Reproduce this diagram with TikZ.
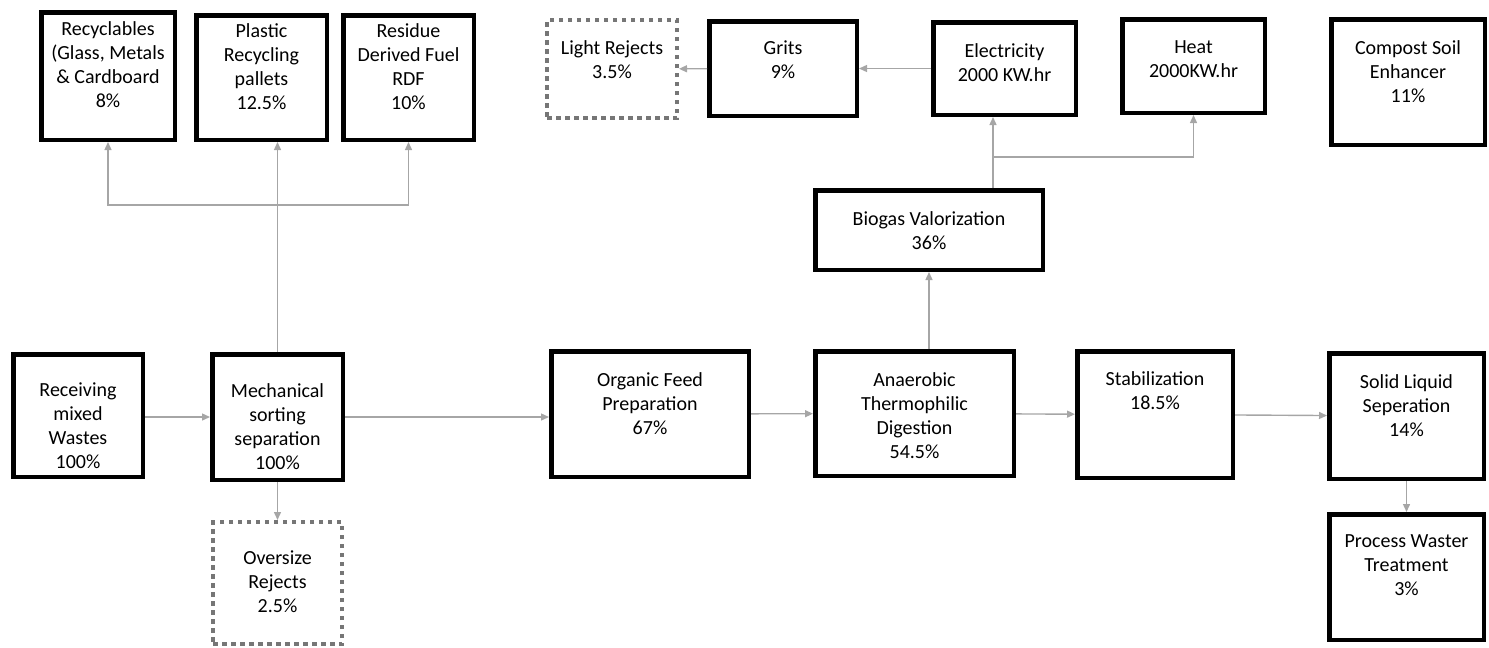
\documentclass[tikz,border=0pt]{standalone}
\usepackage{fontspec}
\setmainfont{Carlito}
\usetikzlibrary{arrows.meta}
\definecolor{flowgray}{RGB}{166,166,166}
\definecolor{rejectgray}{RGB}{118,118,118}

\begin{document}
\begin{tikzpicture}[x=1pt,y=-1pt,
		box/.style={draw=black,line width=4.5pt,inner sep=0pt},
		rejectbox/.style={draw=rejectgray,line width=4pt,dash pattern=on 4.5pt off 4.5pt,inner sep=0pt},
		txt/.style={anchor=north,align=center,inner sep=0pt,
			font=\fontsize{20}{24}\selectfont,execute at begin node=\strut},
		flow/.style={draw=flowgray,line width=1.4pt,-{Triangle[length=8pt,width=7pt]}}]
		\useasboundingbox (0,0) rectangle (1489,648);

		% Products of the sorting line
		\node[box,minimum width=133.5,minimum height=127.5,
			label={[txt,yshift=-11pt]north:{Recyclables\\(Glass, Metals\\\& Cardboard\\8\%}}] (recyc) at (108,76) {};
		\node[box,minimum width=130.5,minimum height=124.5,
			label={[txt,yshift=-10pt]north:{Plastic\\Recycling\\pallets\\12.5\%}}] (plastic) at (261.5,77.5) {};
		\node[box,minimum width=130.5,minimum height=124.5,
			label={[txt,yshift=-10pt]north:{Residue\\Derived Fuel\\RDF\\10\%}}] (rdf) at (408.5,77.5) {};

		% Products of the biogas line
		\node[rejectbox,minimum width=130,minimum height=98,
			label={[txt,yshift=-22pt]north:{Light Rejects\\3.5\%}}] (light) at (612,69) {};
		\node[box,minimum width=147.5,minimum height=94.5,
			label={[txt,yshift=-22pt]north:{Grits\\9\%}}] (grits) at (783,68.5) {};
		\node[box,minimum width=142.5,minimum height=92.5,
			label={[txt,yshift=-23pt]north:{Electricity\\2000 KW.hr}}] (elec) at (1004.5,68.5) {};
		\node[box,minimum width=142.5,minimum height=93.5,
			label={[txt,yshift=-23pt]north:{Heat\\2000KW.hr}}] (heat) at (1193.5,66) {};
		\node[box,minimum width=153.5,minimum height=125.5,
			label={[txt,yshift=-23pt]north:{Compost Soil\\Enhancer\\11\%}}] (compost) at (1408,82) {};
		\node[box,minimum width=227.5,minimum height=79.5,
			label={[txt,yshift=-23pt]north:{Biogas Valorization\\36\%}}] (biogas) at (929,230) {};

		% Main process chain
		\node[box,minimum width=129.5,minimum height=122.5,
			label={[txt,yshift=-31pt]north:{Receiving\\mixed\\Wastes\\100\%}}] (recv) at (78,415.5) {};
		\node[box,minimum width=130.5,minimum height=125.5,
			label={[txt,yshift=-31pt]north:{Mechanical\\sorting\\separation\\100\%}}] (mech) at (277.5,417) {};
		\node[rejectbox,minimum width=129,minimum height=122,
			label={[txt,yshift=-31pt]north:{Oversize\\Rejects\\2.5\%}}] (oversize) at (277.5,583) {};
		\node[box,minimum width=197.5,minimum height=125.5,
			label={[txt,yshift=-23pt]north:{Organic Feed\\Preparation\\67\%}}] (organic) at (650,414) {};
		\node[box,minimum width=198.5,minimum height=124.5,
			label={[txt,yshift=-23pt]north:{Anaerobic\\Thermophilic\\Digestion\\54.5\%}}] (anaer) at (914.5,413.5) {};
		\node[box,minimum width=155.5,minimum height=126.5,
			label={[txt,yshift=-22pt]north:{Stabilization\\18.5\%}}] (stab) at (1155,414.5) {};
		\node[box,minimum width=154.5,minimum height=125.5,
			label={[txt,yshift=-23pt]north:{Solid Liquid\\Seperation\\14\%}}] (solid) at (1406.5,416) {};
		\node[box,minimum width=154.5,minimum height=125.5,
			label={[txt,yshift=-22pt]north:{Process Waster\\Treatment\\3\%}}] (process) at (1406.5,577) {};

		% Branch points
		\coordinate (split) at (277.5,205);
		\coordinate (bsplit) at (993,157);

		% Flows
		\draw[flow] (recv.east |- mech) -- (mech);
		\draw[flow] (mech.east) -- (mech.east -| organic.west);
		\draw[flow] (mech.north) -- (mech.north |- plastic.south);
		\draw[flow] (split) -| (recyc.south);
		\draw[flow] (split) -| (rdf.south);
		\draw[flow] (mech) -- (oversize);
		\draw[flow] (organic) -- (anaer);
		\draw[flow] (anaer) -- (stab);
		\draw[flow] (stab) -- (solid);
		\draw[flow] (solid) -- (process);
		\draw[flow] (anaer.north -| biogas) -- (biogas);
		\draw[flow] (bsplit |- biogas.north) -- (bsplit |- elec.south);
		\draw[flow] (bsplit) -| (heat.south);
		\draw[flow] (elec) -- (grits);
		\draw[flow] (grits) -- (light);
	\end{tikzpicture}
\end{document}
